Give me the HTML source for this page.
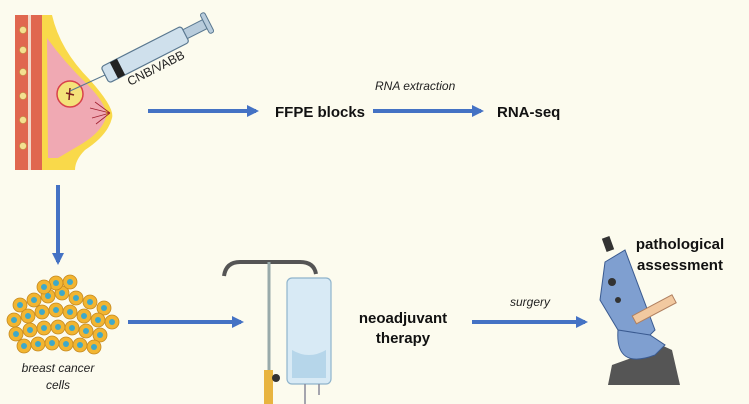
<!DOCTYPE html>
<html><head><style>
html,body{margin:0;padding:0;background:#fcfbee;}
svg{display:block}
text{font-family:"Liberation Sans",sans-serif}
</style></head><body>
<svg width="749" height="404" viewBox="0 0 749 404" xmlns="http://www.w3.org/2000/svg">
<defs>
<marker id="ah" markerWidth="12" markerHeight="12" refX="9" refY="6" orient="auto" markerUnits="userSpaceOnUse">
<path d="M0,0 L12,6 L0,12 z" fill="#4472c4"/></marker>
</defs>
<rect width="749" height="404" fill="#fcfbee"/>
<!-- breast -->
<path d="M15,15 L42,15 L42,170 L15,170 Z" fill="#e0674f"/>
<path d="M28,15 L31,15 L31,170 L28,170 Z" fill="#f3d6c8"/>
<path d="M42,15 L52,15 Q60,50 90,80 Q115,108 112,118 Q108,135 85,150 Q75,160 75,170 L42,170 Z" fill="#f9d94a"/>
<path d="M47,38 Q64,62 88,85 Q108,106 106,117 Q102,132 80,145 Q68,152 58,158 L48,158 Z" fill="#f0a9b3"/>
<circle cx="70" cy="94" r="13" fill="#f4e27a" stroke="#d8424a" stroke-width="1.5"/>
<path d="M70,88 L69,100 M66,93 L74,95" stroke="#7a2020" stroke-width="1.5"/>
<path d="M110,113 L90,108 M110,113 L92,118 M110,113 L95,102 M110,113 L96,124" stroke="#a02030" stroke-width="0.8"/>
<g fill="#f4e090" stroke="#b89a40" stroke-width="0.6">
<circle cx="23" cy="30" r="3.5"/><circle cx="23" cy="50" r="3.5"/><circle cx="23" cy="72" r="3.5"/><circle cx="23" cy="96" r="3.5"/><circle cx="23" cy="120" r="3.5"/><circle cx="23" cy="146" r="3.5"/></g>
<!-- syringe -->
<line x1="70" y1="91" x2="105" y2="75" stroke="#5a7890" stroke-width="1"/>
<g transform="translate(105,75) rotate(-27)">
<rect x="0" y="-9" width="90" height="18" rx="3" fill="#cfe0ec" stroke="#5a7890" stroke-width="1.2"/>
<rect x="10" y="-9" width="8" height="18" fill="#222"/>
<rect x="90" y="-5" width="22" height="10" fill="#b8ccdc" stroke="#5a7890"/>
<rect x="112" y="-11" width="5" height="22" rx="2" fill="#b8ccdc" stroke="#5a7890"/>
</g>
<text x="0" y="0" font-size="12.5" fill="#222" transform="translate(130,86) rotate(-27)">CNB/VABB</text>
<!-- top arrows -->
<line x1="148" y1="111" x2="256" y2="111" stroke="#4472c4" stroke-width="4" marker-end="url(#ah)"/>
<text x="275" y="117" font-size="15" font-weight="bold" fill="#111">FFPE blocks</text>
<line x1="373" y1="111" x2="481" y2="111" stroke="#4472c4" stroke-width="4" marker-end="url(#ah)"/>
<text x="375" y="90" font-size="12" font-style="italic" fill="#222">RNA extraction</text>
<text x="497" y="117" font-size="15" font-weight="bold" fill="#111">RNA-seq</text>
<!-- down arrow -->
<line x1="58" y1="185" x2="58" y2="262" stroke="#4472c4" stroke-width="4" marker-end="url(#ah)"/>
<!-- cells -->
<g fill="#f2b531" stroke="#c68a20" stroke-width="0.8">
<circle cx="20" cy="305" r="7"/><circle cx="34" cy="300" r="7"/><circle cx="48" cy="296" r="7"/><circle cx="62" cy="293" r="7"/><circle cx="76" cy="298" r="7"/><circle cx="90" cy="302" r="7"/><circle cx="104" cy="308" r="7"/>
<circle cx="56" cy="283" r="7"/><circle cx="70" cy="282" r="7"/><circle cx="44" cy="287" r="7"/>
<circle cx="14" cy="320" r="7"/><circle cx="28" cy="316" r="7"/><circle cx="42" cy="312" r="7"/><circle cx="56" cy="310" r="7"/><circle cx="70" cy="312" r="7"/><circle cx="84" cy="316" r="7"/><circle cx="98" cy="320" r="7"/><circle cx="112" cy="322" r="7"/>
<circle cx="16" cy="334" r="7"/><circle cx="30" cy="330" r="7"/><circle cx="44" cy="328" r="7"/><circle cx="58" cy="327" r="7"/><circle cx="72" cy="328" r="7"/><circle cx="86" cy="331" r="7"/><circle cx="100" cy="335" r="7"/>
<circle cx="24" cy="346" r="7"/><circle cx="38" cy="344" r="7"/><circle cx="52" cy="343" r="7"/><circle cx="66" cy="344" r="7"/><circle cx="80" cy="345" r="7"/><circle cx="94" cy="347" r="7"/>
</g>
<g fill="#3fa9c9">
<circle cx="20" cy="305" r="3"/><circle cx="34" cy="300" r="3"/><circle cx="48" cy="296" r="3"/><circle cx="62" cy="293" r="3"/><circle cx="76" cy="298" r="3"/><circle cx="90" cy="302" r="3"/><circle cx="104" cy="308" r="3"/><circle cx="56" cy="283" r="3"/><circle cx="70" cy="282" r="3"/><circle cx="44" cy="287" r="3"/>
<circle cx="14" cy="320" r="3"/><circle cx="28" cy="316" r="3"/><circle cx="42" cy="312" r="3"/><circle cx="56" cy="310" r="3"/><circle cx="70" cy="312" r="3"/><circle cx="84" cy="316" r="3"/><circle cx="98" cy="320" r="3"/><circle cx="112" cy="322" r="3"/>
<circle cx="16" cy="334" r="3"/><circle cx="30" cy="330" r="3"/><circle cx="44" cy="328" r="3"/><circle cx="58" cy="327" r="3"/><circle cx="72" cy="328" r="3"/><circle cx="86" cy="331" r="3"/><circle cx="100" cy="335" r="3"/>
<circle cx="24" cy="346" r="3"/><circle cx="38" cy="344" r="3"/><circle cx="52" cy="343" r="3"/><circle cx="66" cy="344" r="3"/><circle cx="80" cy="345" r="3"/><circle cx="94" cy="347" r="3"/></g>
<text x="58" y="372" font-size="12" font-style="italic" fill="#222" text-anchor="middle">breast cancer</text>
<text x="58" y="389" font-size="12" font-style="italic" fill="#222" text-anchor="middle">cells</text>
<line x1="128" y1="322" x2="241" y2="322" stroke="#4472c4" stroke-width="4" marker-end="url(#ah)"/>
<!-- IV -->
<path d="M224,276 Q226,262 240,262 L300,262 Q314,262 316,274" fill="none" stroke="#555" stroke-width="4"/>
<line x1="269" y1="262" x2="269" y2="400" stroke="#9aa" stroke-width="3"/>
<rect x="264" y="370" width="9" height="34" fill="#e8b440"/>
<circle cx="276" cy="378" r="4" fill="#333"/>
<rect x="287" y="278" width="44" height="106" rx="5" fill="#d8eaf5" stroke="#8fb4cc" stroke-width="1.2"/>
<path d="M292,350 Q309,360 326,350 L326,378 L292,378 Z" fill="#b6d6ea"/>
<line x1="305" y1="384" x2="305" y2="404" stroke="#889" stroke-width="1.5"/>
<line x1="319" y1="384" x2="319" y2="395" stroke="#889" stroke-width="1.5"/>
<text x="403" y="323" font-size="15" font-weight="bold" fill="#111" text-anchor="middle">neoadjuvant</text>
<text x="403" y="343" font-size="15" font-weight="bold" fill="#111" text-anchor="middle">therapy</text>
<text x="530" y="306" font-size="12" font-style="italic" fill="#222" text-anchor="middle">surgery</text>
<line x1="472" y1="322" x2="585" y2="322" stroke="#4472c4" stroke-width="4" marker-end="url(#ah)"/>
<!-- microscope -->
<path d="M608,385 L612,365 L640,355 L650,340 L672,350 L680,385 Z" fill="#555"/>
<path d="M605,262 L625,250 L655,330 L640,345 L618,330 L600,300 Z" fill="#7f9fd0" stroke="#3a5a90" stroke-width="1"/>
<path d="M618,330 Q615,370 655,355 L665,345 L650,335 Z" fill="#7f9fd0" stroke="#3a5a90"/>
<rect x="604" y="237" width="8" height="14" fill="#333" transform="rotate(-20 608 244)"/>
<rect x="632" y="305" width="45" height="9" fill="#f2c9a0" stroke="#b08060" transform="rotate(-28 654 310)"/>
<circle cx="612" cy="282" r="4" fill="#333"/><circle cx="618" cy="300" r="3" fill="#333"/>
<text x="680" y="249" font-size="15" font-weight="bold" fill="#111" text-anchor="middle">pathological</text>
<text x="680" y="270" font-size="15" font-weight="bold" fill="#111" text-anchor="middle">assessment</text>
</svg>
</body></html>
